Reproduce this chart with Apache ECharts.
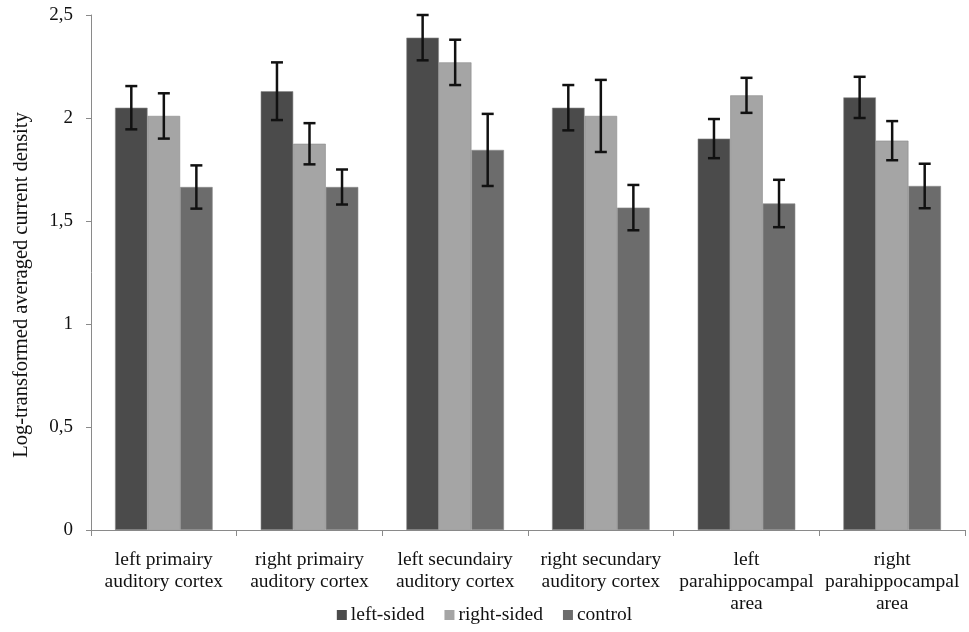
<!DOCTYPE html>
<html>
<head>
<meta charset="utf-8">
<script src="https://cdn.jsdelivr.net/npm/echarts@6/dist/echarts.min.js"></script>
<style>
  html, body { margin: 0; padding: 0; background: #fff; }
  #chart { width: 969px; height: 632px; }
</style>
</head>
<body>
<div id="chart"></div>
<script>
// Brain regions on the category axis
const categories = [
  'left primairy\nauditory cortex',
  'right primairy\nauditory cortex',
  'left secundairy\nauditory cortex',
  'right secundary\nauditory cortex',
  'left\nparahippocampal\narea',
  'right\nparahippocampal\narea'
];

// Group means
const leftSided  = [2.05, 2.13, 2.39, 2.05, 1.90, 2.10];
const rightSided = [2.01, 1.875, 2.27, 2.01, 2.11, 1.89];
const control    = [1.665, 1.665, 1.845, 1.565, 1.585, 1.67];

// Error bar half-lengths
const leftSidedErr  = [0.105, 0.14, 0.11, 0.11, 0.095, 0.10];
const rightSidedErr = [0.11, 0.10, 0.11, 0.175, 0.085, 0.095];
const controlErr    = [0.105, 0.085, 0.175, 0.11, 0.115, 0.108];

const seriesNames = ['left-sided', 'right-sided', 'control'];
const seriesColors = ['#4b4b4b', '#a5a5a5', '#6c6c6c'];
const yTicks = [0, 0.5, 1, 1.5, 2, 2.5];
const yTitle = 'Log-transformed averaged current density';

const means = [leftSided, rightSided, control];
const errs = [leftSidedErr, rightSidedErr, controlErr];

const FONT = '"Liberation Serif", "Times New Roman", serif';
const CAT_GAP = 0.33;

// Whiskers drawn at the centre of each bar in a group
function errorSeries(k) {
  const data = means[k].map((v, i) => [i, v - errs[k][i], v + errs[k][i]]);
  return {
    type: 'custom',
    name: seriesNames[k] + ' err',
    z: 10,
    silent: true,
    data: data,
    encode: { x: 0, y: [1, 2] },
    renderItem: function (params, api) {
      const idx = api.value(0);
      const lo = api.coord([idx, api.value(1)]);
      const hi = api.coord([idx, api.value(2)]);
      const band = api.size([1, 0])[0];
      const barW = band * (1 - CAT_GAP) / 3;
      const x = lo[0] + (k - 1) * barW;
      const cap = 6;
      const style = { stroke: '#111', lineWidth: 2.5 };
      return {
        type: 'group',
        children: [
          { type: 'line', shape: { x1: x, y1: hi[1], x2: x, y2: lo[1] }, style: style },
          { type: 'line', shape: { x1: x - cap, y1: hi[1], x2: x + cap, y2: hi[1] }, style: style },
          { type: 'line', shape: { x1: x - cap, y1: lo[1], x2: x + cap, y2: lo[1] }, style: style }
        ]
      };
    }
  };
}

const barSeries = means.map((vals, k) => ({
  type: 'bar',
  name: seriesNames[k],
  data: vals,
  barGap: '0%',
  barCategoryGap: (CAT_GAP * 100) + '%',
  itemStyle: { color: seriesColors[k], borderColor: '#8a8a8a', borderWidth: 0.6 }
}));

const chart = echarts.init(document.getElementById('chart'), null, { renderer: 'canvas' });
chart.setOption({
  animation: false,
  backgroundColor: '#fff',
  grid: { left: 91, right: 4, top: 15, bottom: 102, containLabel: false },
  legend: {
    data: seriesNames,
    bottom: 2,
    left: 'center',
    icon: 'rect',
    itemWidth: 10,
    itemHeight: 10,
    itemGap: 20,
    itemStyle: { borderWidth: 0 },
    textStyle: { fontFamily: FONT, fontSize: 19.5, color: '#111', padding: [0, 0, 0, -1] }
  },
  graphic: [{
    type: 'text',
    x: 22,
    y: 285,
    rotation: Math.PI / 2,
    style: {
      text: yTitle,
      fontFamily: FONT,
      fontSize: 20.5,
      fill: '#111',
      align: 'center',
      verticalAlign: 'middle'
    }
  }],
  xAxis: {
    type: 'category',
    data: categories,
    axisLine: { lineStyle: { color: '#8a8a8a', width: 1 } },
    axisTick: { show: true, length: 6, lineStyle: { color: '#8a8a8a' } },
    axisLabel: {
      interval: 0,
      fontFamily: FONT,
      fontSize: 19.5,
      color: '#111',
      lineHeight: 22,
      margin: 19
    }
  },
  yAxis: {
    type: 'value',
    min: 0,
    max: 2.5,
    interval: 0.5,
    axisLine: { show: true, lineStyle: { color: '#8a8a8a', width: 1 } },
    axisTick: { show: true, length: 5, lineStyle: { color: '#8a8a8a' } },
    splitLine: { show: false },
    axisLabel: {
      fontFamily: FONT,
      fontSize: 19,
      color: '#111',
      margin: 18,
      formatter: v => {
        const t = yTicks.find(x => Math.abs(x - v) < 1e-9);
        return String(t === undefined ? v : t).replace('.', ',');
      }
    }
  },
  series: barSeries.concat([0, 1, 2].map(errorSeries))
});
</script>
</body>
</html>
